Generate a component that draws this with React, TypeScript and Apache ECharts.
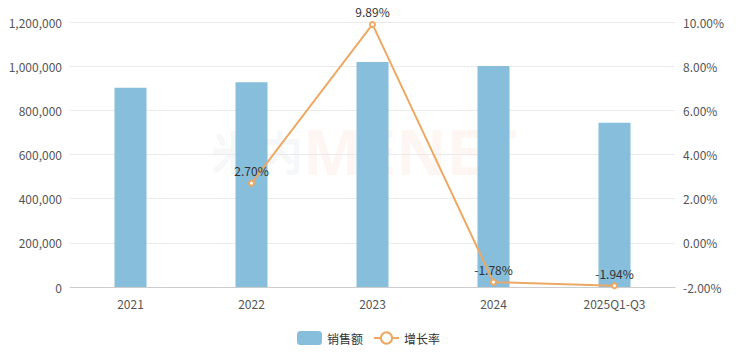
import React, { useEffect, useRef } from "react";
import * as echarts from "echarts";

const categories = ["2021", "2022", "2023", "2024", "2025Q1-Q3"];
const salesValues = [902000, 927000, 1019000, 1001000, 744000];
const growthValues: (number | null)[] = [null, 2.7, 9.89, -1.78, -1.94];

export default function App() {
  const ref = useRef<HTMLDivElement>(null);
  useEffect(() => {
    if (!ref.current) return;
    const chart = echarts.init(ref.current, undefined, { renderer: "svg" });
    const font = "'Noto Sans CJK SC', 'Noto Sans', sans-serif";
    chart.setOption({
      animation: false,
      textStyle: { fontFamily: font },
      grid: { left: 70, right: 62, top: 22, bottom: 69 },
      graphic: [
        {
          type: "text",
          x: 303,
          y: 150,
          z: 0,
          silent: true,
          style: {
            text: "米内",
            align: "right",
            verticalAlign: "middle",
            font: "bold 46px 'Noto Sans CJK SC'",
            fill: "rgba(150,175,185,0.10)",
          },
        },
        {
          type: "text",
          x: 303,
          y: 151,
          z: 0,
          silent: true,
          style: {
            text: "MENET",
            align: "left",
            verticalAlign: "middle",
            font: "bold 62px 'Noto Sans', sans-serif",
            fill: "rgba(245,160,110,0.09)",
          },
        },
      ],
      legend: {
        bottom: 6,
        left: "center",
        itemWidth: 25,
        itemHeight: 14,
        itemGap: 10,
        textStyle: { color: "#333", fontSize: 12 },
        data: [
          { name: "销售额", icon: "roundRect" },
          { name: "增长率" },
        ],
      },
      xAxis: {
        type: "category",
        data: categories,
        axisLine: { lineStyle: { color: "#ccc" } },
        axisTick: { show: false },
        axisLabel: { color: "#555", fontSize: 12, margin: 10 },
      },
      yAxis: [
        {
          type: "value",
          min: 0,
          max: 1200000,
          interval: 200000,
          axisLine: { show: false },
          axisTick: { show: false },
          axisLabel: {
            color: "#555",
            fontSize: 12,
            formatter: (v: number) => v.toLocaleString("en-US"),
          },
          splitLine: { lineStyle: { color: "#eaeaea" } },
        },
        {
          type: "value",
          min: -2,
          max: 10,
          interval: 2,
          axisLine: { show: false },
          axisTick: { show: false },
          axisLabel: {
            color: "#555",
            fontSize: 12,
            formatter: (v: number) => v.toFixed(2) + "%",
          },
          splitLine: { show: false },
        },
      ],
      series: [
        {
          name: "销售额",
          type: "bar",
          data: salesValues,
          barWidth: 32,
          itemStyle: { color: "#86BEDC" },
          z: 2,
        },
        {
          name: "增长率",
          type: "line",
          yAxisIndex: 1,
          data: growthValues,
          symbol: "emptyCircle",
          symbolSize: 5,
          connectNulls: false,
          lineStyle: { color: "#EDA863", width: 2 },
          itemStyle: { color: "#EDA863", borderWidth: 1.5 },
          label: {
            show: true,
            position: "top",
            distance: 3,
            color: "#333",
            fontSize: 12,
            formatter: (p: any) => Number(p.value).toFixed(2) + "%",
          },
          z: 3,
        },
      ],
    });
    return () => chart.dispose();
  }, []);
  return <div ref={ref} style={{ width: 737, height: 356, margin: -8 }} />;
}
